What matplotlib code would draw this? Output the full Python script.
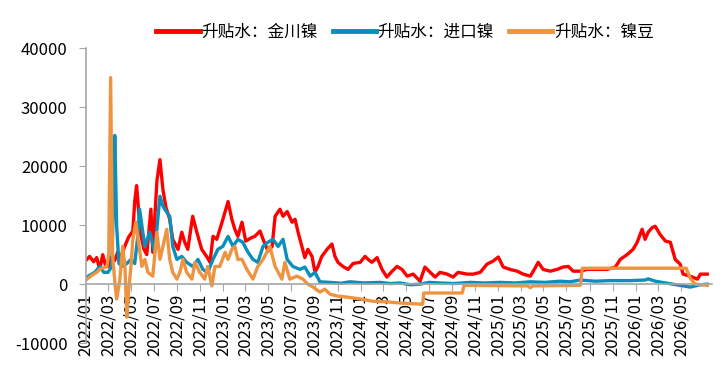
import pandas as pd
import matplotlib.pyplot as plt
import matplotlib.dates as mdates

plt.rcParams['font.family'] = ['Noto Sans CJK SC', 'DejaVu Sans']
plt.rcParams['axes.unicode_minus'] = False

# 升贴水：金川镍
red_dates = ['2022-01-04', '2022-01-11', '2022-01-22', '2022-01-30', '2022-02-07', '2022-02-15',
             '2022-02-23', '2022-03-01', '2022-03-08', '2022-03-19', '2022-03-27', '2022-04-04',
             '2022-04-15', '2022-04-25', '2022-05-06', '2022-05-11', '2022-05-16', '2022-05-22',
             '2022-05-27', '2022-06-04', '2022-06-12', '2022-06-23', '2022-06-28', '2022-07-09',
             '2022-07-17', '2022-07-25', '2022-08-02', '2022-08-12', '2022-08-20', '2022-09-03',
             '2022-09-13', '2022-09-21', '2022-09-29', '2022-10-12', '2022-10-23', '2022-11-05',
             '2022-11-19', '2022-11-27', '2022-12-05', '2022-12-15', '2022-12-29', '2023-01-14',
             '2023-01-24', '2023-02-01', '2023-02-09', '2023-02-20', '2023-03-02', '2023-03-18',
             '2023-03-26', '2023-04-09', '2023-04-17', '2023-04-30', '2023-05-11', '2023-05-19',
             '2023-06-01', '2023-06-09', '2023-06-20', '2023-07-03', '2023-07-11', '2023-07-19',
             '2023-07-29', '2023-08-06', '2023-08-14', '2023-08-25', '2023-09-02', '2023-09-10',
             '2023-09-20', '2023-10-04', '2023-10-17', '2023-10-25', '2023-11-02', '2023-11-15',
             '2023-11-29', '2023-12-12', '2023-12-31', '2024-01-13', '2024-01-21', '2024-01-31',
             '2024-02-14', '2024-02-27', '2024-03-11', '2024-03-25', '2024-04-07', '2024-04-20',
             '2024-05-04', '2024-05-20', '2024-06-07', '2024-06-20', '2024-07-04', '2024-07-17',
             '2024-07-30', '2024-08-18', '2024-09-03', '2024-09-16', '2024-10-10', '2024-10-26',
             '2024-11-14', '2024-12-02', '2024-12-18', '2025-01-01', '2025-01-14', '2025-02-01',
             '2025-02-20', '2025-03-08', '2025-03-27', '2025-04-04', '2025-04-17', '2025-04-30',
             '2025-05-19', '2025-06-06', '2025-06-22', '2025-07-06', '2025-07-19', '2025-08-07',
             '2025-08-25', '2025-09-21', '2025-10-17', '2025-11-08', '2025-11-21', '2025-12-09',
             '2025-12-25', '2026-01-05', '2026-01-18', '2026-01-26', '2026-02-03', '2026-02-14',
             '2026-02-22', '2026-03-07', '2026-03-21', '2026-04-03', '2026-04-16', '2026-04-29',
             '2026-05-07', '2026-05-26', '2026-06-14', '2026-06-22', '2026-07-10']
red_vals = [4200, 4700, 3800, 4500, 2500, 5000,
            3000, 3000, 4500, 4000, 5500, 4500,
            6500, 8000, 9000, 14000, 16700, 12000,
            8500, 6000, 5000, 12700, 5400, 17500,
            21100, 16000, 13000, 11000, 7600, 5900,
            8800, 7100, 5900, 11500, 8800, 5900,
            4600, 3700, 8100, 7600, 10500, 14000,
            11000, 9300, 8100, 10500, 7300, 7900,
            8100, 9000, 7600, 5600, 6400, 11500,
            12700, 11500, 12300, 10500, 11000, 8800,
            6400, 4500, 5900, 4700, 2000, 3000,
            4700, 5900, 6800, 4700, 3700, 3000,
            2500, 3500, 3700, 4700, 4200, 3700,
            4500, 2500, 1200, 2200, 3000, 2500,
            1350, 1700, 500, 2900, 2000, 1200,
            2000, 1700, 1200, 2000, 1700, 1700,
            2000, 3400, 3900, 4600, 2900, 2500,
            2200, 1700, 1350, 2200, 3700, 2500,
            2200, 2500, 2900, 3000, 2200, 2200,
            2500, 2500, 2500, 2900, 4200, 5000,
            5900, 7100, 9300, 7600, 8800, 9600,
            9800, 8400, 7300, 7100, 4200, 3400,
            1700, 1350, 850, 1700, 1700]

# 升贴水：进口镍
blue_dates = ['2022-01-04', '2022-01-11', '2022-01-25', '2022-02-07', '2022-02-18', '2022-03-01',
              '2022-03-11', '2022-03-16', '2022-03-19', '2022-03-24', '2022-03-30', '2022-04-09',
              '2022-04-20', '2022-05-01', '2022-05-11', '2022-05-19', '2022-05-24', '2022-06-01',
              '2022-06-07', '2022-06-20', '2022-07-03', '2022-07-17', '2022-07-25', '2022-08-04',
              '2022-08-12', '2022-08-20', '2022-08-31', '2022-09-13', '2022-09-26', '2022-10-12',
              '2022-10-26', '2022-11-08', '2022-11-21', '2022-12-05', '2022-12-18', '2022-12-31',
              '2023-01-14', '2023-01-27', '2023-02-09', '2023-02-22', '2023-03-08', '2023-03-21',
              '2023-04-03', '2023-04-17', '2023-04-30', '2023-05-13', '2023-05-27', '2023-06-09',
              '2023-06-20', '2023-07-05', '2023-07-24', '2023-08-06', '2023-08-20', '2023-09-02',
              '2023-09-15', '2023-10-12', '2023-11-10', '2023-12-04', '2024-01-10', '2024-02-22',
              '2024-03-20', '2024-04-15', '2024-05-12', '2024-06-07', '2024-07-01', '2024-07-30',
              '2024-09-05', '2024-10-18', '2024-11-25', '2025-01-06', '2025-02-15', '2025-03-27',
              '2025-05-05', '2025-06-14', '2025-07-10', '2025-08-07', '2025-09-15', '2025-10-25',
              '2025-12-17', '2026-01-26', '2026-02-03', '2026-02-22', '2026-03-21', '2026-04-29',
              '2026-05-26', '2026-06-22', '2026-07-10']
blue_vals = [1200, 1500, 2000, 3000, 2000, 2000,
             3000, 15000, 25200, 9800, 3500, 3000,
             3500, 4200, 3500, 8000, 12700, 9000,
             6400, 8800, 5400, 14900, 13200, 12200,
             11500, 6400, 4200, 4700, 3700, 3000,
             4200, 2500, 2000, 4200, 5900, 6400,
             8100, 6400, 7600, 7100, 5400, 4200,
             3700, 6400, 7100, 7600, 6400, 7600,
             4200, 3000, 2500, 2900, 1350, 2000,
             400, 300, 150, 400, 200, 300,
             100, 200, -100, 0, 300, 200,
             100, 300, 200, 300, 200, 400,
             300, 500, 400, 700, 500, 600,
             600, 700, 900, 500, 200, -200,
             -500, -100, 0]

# 升贴水：镍豆
orange_dates = ['2022-01-04', '2022-01-17', '2022-01-30', '2022-02-07', '2022-02-18', '2022-02-26',
                '2022-03-03', '2022-03-08', '2022-03-13', '2022-03-19', '2022-03-24', '2022-04-01',
                '2022-04-09', '2022-04-15', '2022-04-20', '2022-04-25', '2022-05-01', '2022-05-06',
                '2022-05-14', '2022-05-19', '2022-05-30', '2022-06-07', '2022-06-15', '2022-06-28',
                '2022-07-09', '2022-07-17', '2022-07-25', '2022-08-04', '2022-08-12', '2022-08-20',
                '2022-08-31', '2022-09-08', '2022-09-16', '2022-09-26', '2022-10-10', '2022-10-18',
                '2022-10-31', '2022-11-13', '2022-11-21', '2022-12-02', '2022-12-10', '2022-12-23',
                '2023-01-06', '2023-01-14', '2023-01-24', '2023-02-01', '2023-02-09', '2023-02-20',
                '2023-03-05', '2023-03-21', '2023-04-03', '2023-04-17', '2023-05-05', '2023-05-19',
                '2023-06-06', '2023-06-14', '2023-06-27', '2023-07-16', '2023-08-01', '2023-08-14',
                '2023-08-28', '2023-09-15', '2023-09-28', '2023-10-12', '2023-10-30', '2023-11-26',
                '2023-12-31', '2024-02-03', '2024-03-11', '2024-04-15', '2024-06-14', '2024-06-17',
                '2024-09-27', '2024-10-02', '2025-03-20', '2025-03-27', '2025-04-03', '2025-08-07',
                '2025-08-12', '2026-05-15', '2026-05-26', '2026-06-08', '2026-07-10']
orange_vals = [850, 1500, 2000, 2500, 2800, 3000,
               5000, 35000, 5000, 500, -2500, 500,
               6400, 3000, -5600, -1000, 3000, 7600,
               10500, 8100, 3000, 4200, 2000, 1350,
               8800, 4200, 6400, 9300, 4200, 2000,
               850, 2000, 4200, 2000, 850, 3700,
               2000, 850, 3000, -300, 3000, 3000,
               5400, 4200, 5900, 6400, 4200, 4200,
               2500, 850, 3000, 4200, 6400, 3000,
               850, 3700, 850, 1350, 850, 0,
               -500, -1350, -850, -1700, -2000, -2200,
               -2500, -2900, -3000, -3200, -3400, -1500,
               -1500, -200, -300, -600, -300, -200,
               2700, 2700, 1000, 0, -200]

series = [
    ('升贴水：金川镍', red_dates, red_vals, '#ff0000'),
    ('升贴水：进口镍', blue_dates, blue_vals, '#0a8fba'),
    ('升贴水：镍豆', orange_dates, orange_vals, '#ee9440'),
]

fig = plt.figure(figsize=(7.27, 3.73), dpi=100)
ax = fig.add_axes([0.118, 0.080, 0.861, 0.791])

for name, dates, vals, color in series:
    ax.plot(pd.to_datetime(dates), vals, color=color, lw=2.4, label=name)

ax.set_ylim(-10000, 40000)
ax.set_yticks(range(-10000, 40001, 10000))
ax.set_xlim(pd.Timestamp('2022-01-01'), pd.Timestamp('2026-07-22'))

# x 轴放在 0 处
ax.spines['bottom'].set_position(('data', 0))
ax.spines['top'].set_visible(False)
ax.spines['right'].set_visible(False)
for s in ['left', 'bottom']:
    ax.spines[s].set_color('#a6a6a6')
    ax.spines[s].set_linewidth(1.2)

ax.xaxis.set_major_locator(mdates.MonthLocator(bymonth=[1, 3, 5, 7, 9, 11]))
ax.xaxis.set_major_formatter(mdates.DateFormatter('%Y/%m'))
ax.set_xticks(pd.date_range('2022-01-01', '2026-05-01', freq='2MS'))
ax.tick_params(axis='x', rotation=90, labelsize=12, color='#a6a6a6', length=5, pad=2)
ax.tick_params(axis='y', labelsize=12, color='#a6a6a6', length=5, pad=8)

fig.legend(loc='center', bbox_to_anchor=(0.557, 0.914), ncol=3, frameon=False,
           fontsize=12, handlelength=2.6, handletextpad=0.1, columnspacing=0.9)
for line in fig.legends[0].get_lines():
    line.set_linewidth(3.5)

plt.savefig('out.png', dpi=100)
